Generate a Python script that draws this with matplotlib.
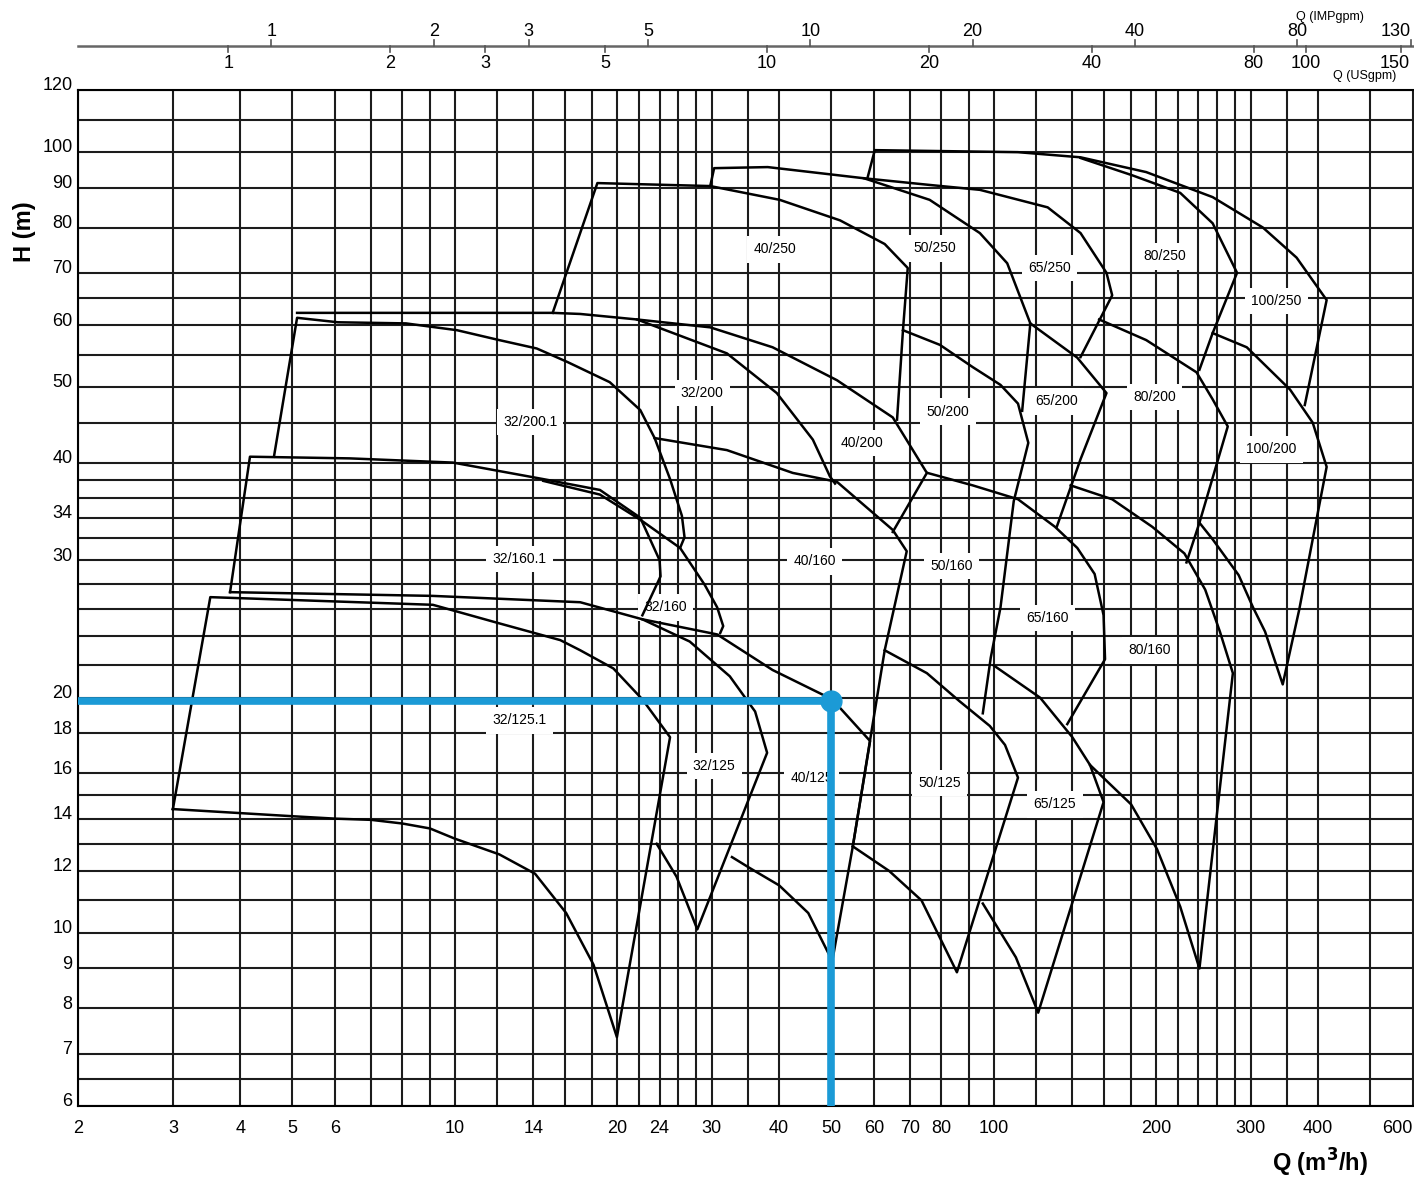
import matplotlib
matplotlib.use("Agg")
import matplotlib.pyplot as plt
from matplotlib import font_manager
from matplotlib.lines import Line2D
from matplotlib.ticker import NullLocator
from matplotlib.transforms import ScaledTranslation, blended_transform_factory

# ---------------- grid / ticks ----------------
grid_q = [2, 3, 4, 5, 6, 7, 8, 9, 10, 12, 14, 16, 18, 20, 22, 24, 26, 28, 30, 35, 40,
          50, 60, 70, 80, 90, 100, 120, 140, 160, 180, 200, 220, 240, 260, 280, 300,
          350, 400, 500, 600]
grid_h = [6, 6.5, 7, 8, 9, 10, 11, 12, 13, 14, 15, 16, 18, 20, 22, 24, 26, 28, 30, 32,
          34, 36, 38, 40, 45, 50, 55, 60, 65, 70, 80, 90, 100, 110, 120]
xtick_vals = [2, 3, 4, 5, 6, 10, 14, 20, 24, 30, 40, 50, 60, 70, 80, 100, 200, 300, 400, 600]
ytick_vals = [6, 7, 8, 9, 10, 12, 14, 16, 18, 20, 30, 34, 40, 50, 60, 70, 80, 90, 100, 120]

# secondary flow scales (label values and m3/h per unit as printed on the chart)
imp_vals = [1, 2, 3, 5, 10, 20, 40, 80, 130]
us_vals = [1, 2, 3, 5, 10, 20, 40, 80, 100, 150]
m3h_per_imp = 4.57
m3h_per_us = 3.80

# ---------------- pump range outlines (Q m3/h, H m) ----------------
c_32_125_1 = [(3.0, 14.4), (3.52, 26.9), (9.11, 26.3), (12.1, 24.9), (15.7, 23.7), (17.1, 23.0),
              (19.7, 21.8), (22.3, 19.9), (25.1, 17.8), (20.0, 7.35), (18.1, 9.1), (16.1, 10.6),
              (14.1, 11.9), (12.1, 12.6), (10.0, 13.2), (9.0, 13.6), (8.0, 13.8), (7.0, 13.95),
              (6.0, 14.0), (5.0, 14.1), (3.0, 14.4)]
c_32_125 = [(3.83, 27.3), (9.11, 27.0), (17.1, 26.5), (22.3, 25.2), (27.3, 23.6), (32.4, 21.3),
            (36.1, 19.2), (38.0, 17.0), (28.2, 10.1), (25.8, 11.8), (23.7, 13.0)]
c_40_125 = [(22.3, 25.2), (30.7, 24.1), (38.9, 21.7), (50.2, 19.9), (59.0, 17.6), (54.8, 12.9),
            (50.2, 9.2), (45.3, 10.6), (40.0, 11.5), (35.3, 12.1), (32.7, 12.5)]
c_50_125 = [(62.8, 23.0), (75.2, 21.5), (86.4, 19.8), (98.4, 18.4), (105, 17.4), (111, 15.8),
            (85.5, 8.9), (73.5, 11.0), (64.0, 12.0), (54.8, 12.9)]
c_65_125 = [(100, 22.0), (122, 20.0), (140, 17.8), (151, 16.4), (160, 14.7), (121, 7.9),
            (110, 9.3), (95.5, 10.9)]

c_32_160_1 = [(3.83, 27.3), (4.17, 40.7), (6.39, 40.5), (9.93, 40.0), (14.6, 38.1), (18.6, 36.9),
              (22.1, 34.0), (24.0, 30.0), (24.1, 28.6), (22.3, 25.5)]
c_32_160 = [(14.6, 37.9), (18.6, 36.4), (22.1, 33.8), (26.2, 31.1), (29.1, 27.9), (30.7, 26.1),
            (31.5, 24.7), (31.1, 24.2)]
c_40_160 = [(23.5, 43.0), (32.0, 41.5), (42.4, 38.8), (51.2, 37.8), (65.0, 32.8), (69.0, 30.8),
            (62.8, 23.0), (54.8, 12.9)]
c_50_160 = [(75.4, 38.8), (91.5, 37.4), (111, 35.9), (130, 33.1), (143, 31.1), (154, 28.8),
            (160, 25.5), (161, 22.4), (137, 18.5)]
c_80_160 = [(139, 37.4), (166, 35.9), (197, 33.1), (226, 30.6), (247, 27.5), (263, 24.3),
            (278, 21.5), (241, 9.0), (222, 10.8), (201, 12.8), (180, 14.6), (151, 16.4)]

c_32_200_1 = [(4.62, 40.7), (5.10, 61.3), (6.07, 60.5), (8.12, 60.3), (10.1, 59.1), (12.1, 57.4),
              (14.2, 56.0), (16.2, 53.8), (19.4, 50.7), (22.1, 46.7), (23.5, 43.0), (25.1, 38.1),
              (26.4, 34.2), (26.7, 32.1), (26.2, 31.1)]
c_32_200 = [(5.10, 62.2), (15.2, 62.2), (17.1, 62.0), (21.8, 61.0), (32.0, 55.2), (39.6, 49.1),
            (46.2, 42.8), (49.7, 38.4), (50.8, 37.6)]
c_40_200 = [(21.8, 61.0), (29.8, 59.6), (38.9, 56.2), (51.2, 51.0), (65.0, 45.7), (75.2, 38.8),
            (65.0, 32.6)]
c_50_200 = [(67.9, 59.1), (79.5, 56.6), (91.5, 53.0), (103, 50.3), (111, 47.6), (116, 42.4),
            (109, 35.7), (103, 26.1), (98.8, 22.5), (95.5, 19.1)]
c_65_200 = [(117, 60.3), (143, 54.5), (162, 49.1), (145, 40.4), (131, 33.1)]
c_80_200 = [(157, 61.0), (192, 57.4), (238, 52.2), (255, 48.2), (272, 44.5), (241, 33.5),
            (228, 29.8)]
c_100_200 = [(255, 58.6), (295, 56.2), (355, 49.6), (391, 45.0), (415, 39.5), (391, 31.9),
             (369, 25.9), (344, 20.8), (319, 24.3), (303, 26.1), (285, 28.7), (255, 31.9),
             (241, 33.5)]

c_40_250 = [(15.2, 62.2), (18.4, 91.2), (29.8, 90.4), (40.1, 86.8), (51.9, 81.7), (62.8, 76.2),
            (69.3, 71.0), (67.9, 59.1), (66.2, 45.4)]
c_50_250 = [(29.8, 90.4), (30.3, 95.3), (38.1, 95.6), (57.5, 92.5), (76.1, 86.8), (94.3, 78.7),
            (106, 72.0), (115, 62.2), (117, 60.3), (113, 46.6)]
c_65_250 = [(57.5, 92.5), (76.1, 90.7), (94.3, 89.4), (126, 84.9), (145, 78.7), (162, 70.0),
            (166, 65.5), (145, 54.6)]
c_80_250 = [(145, 98.2), (181, 93.3), (222, 88.6), (255, 81.0), (283, 70.0), (255, 58.6),
            (241, 52.6)]
c_100_250 = [(58.4, 92.8), (60.2, 100.5), (111, 99.9), (145, 98.4), (192, 94.2), (255, 87.5),
             (316, 80.0), (365, 73.2), (415, 64.6), (378, 47.4)]

outlines = [c_32_125_1, c_32_125, c_40_125, c_50_125, c_65_125,
            c_32_160_1, c_32_160, c_40_160, c_50_160, c_80_160,
            c_32_200_1, c_32_200, c_40_200, c_50_200, c_65_200, c_80_200, c_100_200,
            c_40_250, c_50_250, c_65_250, c_80_250, c_100_250]

# labels: text, Q, H
label_text = ["32/125.1", "32/125", "40/125", "50/125", "65/125",
              "32/160.1", "32/160", "40/160", "50/160", "65/160", "80/160",
              "32/200.1", "32/200", "40/200", "50/200", "65/200", "80/200", "100/200",
              "40/250", "50/250", "65/250", "80/250", "100/250"]
label_q = [13.2, 30.3, 46.0, 79.5, 130,
           13.2, 24.6, 46.6, 83.7, 126, 195,
           13.8, 28.8, 57.0, 82.3, 131, 199, 328,
           39.3, 77.8, 127, 208, 335]
label_h = [18.7, 16.35, 15.8, 15.55, 14.6,
           30.1, 26.1, 29.9, 29.5, 25.3, 23.0,
           45.1, 49.1, 42.4, 46.5, 47.9, 48.5, 41.6,
           75.0, 75.2, 71.0, 73.5, 64.4]

# selected duty point
duty_q = 50
duty_h = 19.8

# ---------------- fonts ----------------
avail = {f.name for f in font_manager.fontManager.ttflist}
if 'Liberation Sans Narrow' in avail:
    narrow = 'Liberation Sans Narrow'
elif 'Liberation Sans' in avail:
    narrow = 'Liberation Sans'
else:
    narrow = 'DejaVu Sans'
plt.rcParams['font.family'] = [narrow, 'DejaVu Sans']

W, H = 1414, 1184
fig = plt.figure(figsize=(W / 100, H / 100), dpi=100)
ax = fig.add_axes([78 / W, 78 / H, 1371 / W, 1016 / H])
ax.set_xscale('log')
ax.set_yscale('log')
ax.set_xlim(2, 700)
ax.set_ylim(6, 120)

gcol = '#1c1c1c'
for q in grid_q:
    ax.axvline(q, color=gcol, lw=1.5, zorder=1)
for h in grid_h:
    ax.axhline(h, color=gcol, lw=1.5, zorder=1)

for c in outlines:
    qs = [p[0] for p in c]
    hs = [p[1] for p in c]
    ax.plot(qs, hs, color='black', lw=1.8, zorder=3, solid_joinstyle='round')

for t, q, h in zip(label_text, label_q, label_h):
    ax.text(q, h, t, ha='center', va='center', fontsize=10, zorder=2.5,
            bbox=dict(boxstyle='square,pad=0.45', fc='white', ec='none'))

blue = '#1b9ad6'
ax.plot([grid_q[0], duty_q], [duty_h, duty_h], color=blue, lw=5.5, zorder=5,
        solid_capstyle='butt')
ax.plot([duty_q, duty_q], [duty_h, grid_h[0]], color=blue, lw=5.5, zorder=5,
        solid_capstyle='butt')
ax.plot([duty_q], [duty_h], 'o', color=blue, ms=15, zorder=6)

for s in ['left', 'bottom', 'top']:
    ax.spines[s].set_linewidth(1.5)
ax.spines['right'].set_visible(False)

ax.xaxis.set_minor_locator(NullLocator())
ax.yaxis.set_minor_locator(NullLocator())
ax.set_xticks(xtick_vals)
ax.set_xticklabels([str(v) for v in xtick_vals])
ax.set_yticks(ytick_vals)
ax.set_yticklabels([str(v) for v in ytick_vals])
ax.tick_params(axis='x', length=0, pad=10, labelsize=13)
ax.tick_params(axis='y', length=0, pad=4, labelsize=13)
for lab in ax.get_yticklabels():
    lab.set_transform(lab.get_transform() + ScaledTranslation(0, 0.06, fig.dpi_scale_trans))
# last x label sits at the right edge of the sheet: keep it inside
ax.get_xticklabels()[-1].set_horizontalalignment('right')

# top secondary scales
tr = blended_transform_factory(ax.transData, fig.transFigure)
y_line = 1 - 46 / H
fig.add_artist(Line2D([2, 700], [y_line, y_line], transform=tr, color='#666666', lw=1.8))
for i, v in enumerate(imp_vals):
    q = v * m3h_per_imp
    fig.add_artist(Line2D([q, q], [y_line, y_line + 6 / H], transform=tr, color='#555555', lw=1.2))
    ha = 'right' if i == len(imp_vals) - 1 else 'center'
    fig.text(q, 1 - 32 / H, str(v), transform=tr, ha=ha, va='center', fontsize=13)
for i, v in enumerate(us_vals):
    q = v * m3h_per_us
    fig.add_artist(Line2D([q, q], [y_line, y_line - 6 / H], transform=tr, color='#555555', lw=1.2))
    ha = 'right' if i == len(us_vals) - 1 else 'center'
    fig.text(q * 1.04 if ha == 'right' else q, 1 - 63 / H, str(v), transform=tr, ha=ha,
             va='center', fontsize=13)
fig.text(1330 / W, 1 - 17 / H, 'Q (IMPgpm)', ha='center', va='center', fontsize=9)
fig.text(1365 / W, 1 - 76 / H, 'Q (USgpm)', ha='center', va='center', fontsize=9)

fig.text(25 / W, 1 - 232 / H, 'H (m)', rotation=90, ha='center', va='center',
         fontsize=17, fontweight='bold')
fig.text(1320 / W, 1 - 1163 / H, r'Q (m$^\mathbf{3}$/h)', ha='center', va='center',
         fontsize=17, fontweight='bold')

fig.savefig('out.png', dpi=100)
